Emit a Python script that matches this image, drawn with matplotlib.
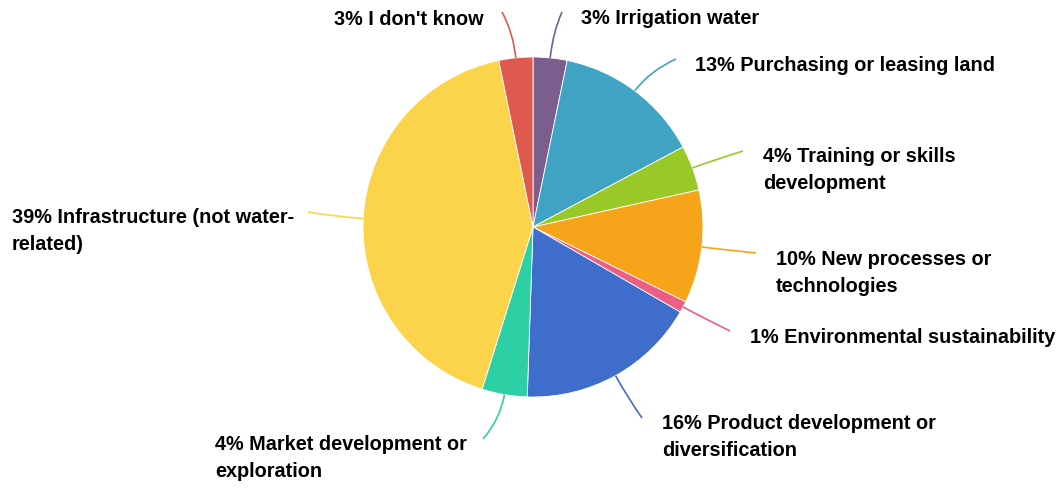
import numpy as np
import matplotlib

matplotlib.use("Agg")
import matplotlib.pyplot as plt  # noqa: E402
from matplotlib.path import Path  # noqa: E402
from matplotlib.patches import PathPatch  # noqa: E402

# data, clockwise from 12 o'clock
labels = [
    "3% Irrigation water",
    "13% Purchasing or leasing land",
    "4% Training or skills\ndevelopment",
    "10% New processes or\ntechnologies",
    "1% Environmental sustainability",
    "16% Product development or\ndiversification",
    "4% Market development or\nexploration",
    "39% Infrastructure (not water-\nrelated)",
    "3% I don't know",
]
values = [3, 13, 4, 10, 1, 16, 4, 39, 3]
colors = ["#7b5e8e", "#41a3c4", "#99c927", "#f6a51b", "#ec5f82",
          "#3f6dcc", "#2dcfa4", "#fbd44b", "#de5a4f"]

# layout in pixel units (y measured from top)
W, H = 1062, 489
cx, cy, R = 533, 228, 170
line_end = [(562, 13), (676, 60), (743, 152), (756, 254), (730, 332),
            (642, 419), (483, 440), (308, 213), (502, 13)]
text_pos = [(581, 19, "left"), (695, 66, "left"), (763, 170, "left"),
            (776, 273, "left"), (750, 338, "left"), (662, 437, "left"),
            (215, 458, "left"), (12, 231, "left"), (484, 20, "right")]

fig = plt.figure(figsize=(W / 100, H / 100), dpi=100)
ax = fig.add_axes([0, 0, 1, 1])
wedges, _ = ax.pie(values, colors=colors, startangle=90, counterclock=False,
                   center=(cx, H - cy), radius=R,
                   wedgeprops=dict(edgecolor="white", linewidth=0.6))
ax.set_xlim(0, W)
ax.set_ylim(0, H)
ax.set_aspect("auto")
ax.axis("off")

for w, c, (ex, ey), (tx, ty, ha), lab in zip(wedges, colors, line_end, text_pos, labels):
    mid = np.deg2rad((w.theta1 + w.theta2) / 2)
    p0 = (cx + R * np.cos(mid), H - cy + R * np.sin(mid))
    p1 = (cx + (R + 25) * np.cos(mid), H - cy + (R + 25) * np.sin(mid))
    p2 = (ex, H - ey)
    path = Path([p0, p1, p2], [Path.MOVETO, Path.CURVE3, Path.CURVE3])
    ax.add_patch(PathPatch(path, facecolor="none", edgecolor=c, linewidth=1.2))
    ax.text(tx, H - ty, lab, ha=ha, va="center", fontsize=14.3,
            fontweight="bold", family="Liberation Sans", linespacing=1.55,
            color="#000000")

fig.savefig("out.png", dpi=100)
